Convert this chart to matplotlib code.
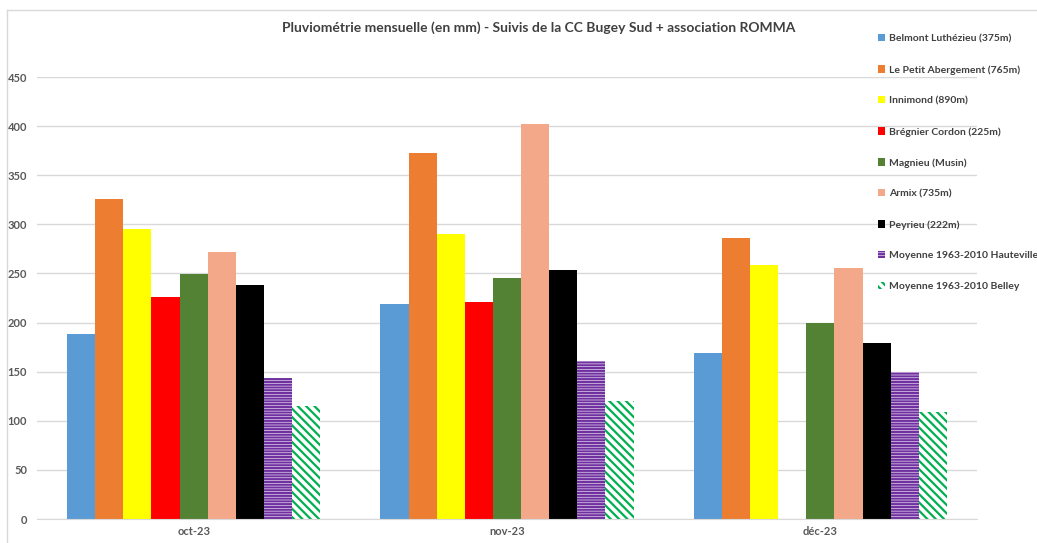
import numpy as np
import matplotlib
matplotlib.use("Agg")
import matplotlib.pyplot as plt
from matplotlib.lines import Line2D

plt.rcParams["font.family"] = ["Lato", "DejaVu Sans"]
plt.rcParams["hatch.linewidth"] = 1.6

months = ["oct-23", "nov-23", "déc-23"]
stations = [
    "Belmont Luthézieu (375m)",
    "Le Petit Abergement (765m)",
    "Innimond (890m)",
    "Brégnier Cordon (225m)",
    "Magnieu (Musin)",
    "Armix (735m)",
    "Peyrieu (222m)",
    "Moyenne 1963-2010 Hauteville",
    "Moyenne 1963-2010 Belley",
]
belmont = [188, 219, 169]
petit_abergement = [326, 373, 286]
innimond = [295, 290, 259]
bregnier = [226, 221, np.nan]
magnieu = [249, 245, 200]
armix = [272, 402, 256]
peyrieu = [238, 253, 179]
moy_hauteville = [144, 161, 150]
moy_belley = [115, 120, 109]
series = [belmont, petit_abergement, innimond, bregnier, magnieu,
          armix, peyrieu, moy_hauteville, moy_belley]
colors = ["#5B9BD5", "#ED7D31", "#FFFF00", "#FF0000", "#548235",
          "#F2A889", "#000000", "#7030A0", "#00B050"]
hatches = [None] * 7 + ["------", "\\\\\\\\"]

fig = plt.figure(figsize=(10.37, 5.43), dpi=100)
ax = fig.add_axes([37 / 1037, 24 / 543, 940 / 1037, 442 / 543])

x = np.arange(len(months))
w = 0.808 / 9
for i, (vals, c, h, lab) in enumerate(zip(series, colors, hatches, stations)):
    pos = x - 0.404 + w * (i + 0.5)
    if h is None:
        ax.bar(pos, vals, width=w, color=c, linewidth=0, label=lab, zorder=2)
    else:
        ax.bar(pos, vals, width=w, facecolor="white", edgecolor=c,
               hatch=h, linewidth=0, label=lab, zorder=2)

ax.set_xlim(-0.5, 2.5)
ax.set_ylim(0, 450)
ax.set_yticks(np.arange(0, 451, 50))
ax.set_xticks(x)
ax.set_xticklabels(months)
ax.grid(axis="y", color="#D9D9D9", linewidth=1, zorder=0)
for s in ["top", "right", "left"]:
    ax.spines[s].set_visible(False)
ax.spines["bottom"].set_color("#D9D9D9")
ax.tick_params(axis="both", length=0, labelsize=8, colors="#595959")
ax.tick_params(axis="y", pad=7)
ax.tick_params(axis="x", pad=5)
for t in ax.get_xticklabels() + ax.get_yticklabels():
    t.set_fontweight("bold")

fig.text(539 / 1037, 1 - 28 / 543,
         "Pluviométrie mensuelle (en mm) - Suivis de la CC Bugey Sud + association ROMMA",
         ha="center", va="center", fontsize=10, fontweight="bold", color="#404040")

handles, labels = ax.get_legend_handles_labels()
leg = fig.legend(handles, labels, loc="upper left",
                 bbox_to_anchor=(874 / 1037, 1 - 30 / 543), frameon=False,
                 fontsize=7.5, labelspacing=2.07, handlelength=0.7,
                 handleheight=0.7, handletextpad=0.35, borderaxespad=0)
for t in leg.get_texts():
    t.set_fontweight("bold")
    t.set_color("#404040")

# chart border (top and left)
fig.add_artist(Line2D([7 / 1037, 1], [1 - 10 / 543] * 2, color="#D9D9D9", lw=1))
fig.add_artist(Line2D([7 / 1037] * 2, [0, 1 - 10 / 543], color="#D9D9D9", lw=1))

fig.savefig("out.png", dpi=100)
